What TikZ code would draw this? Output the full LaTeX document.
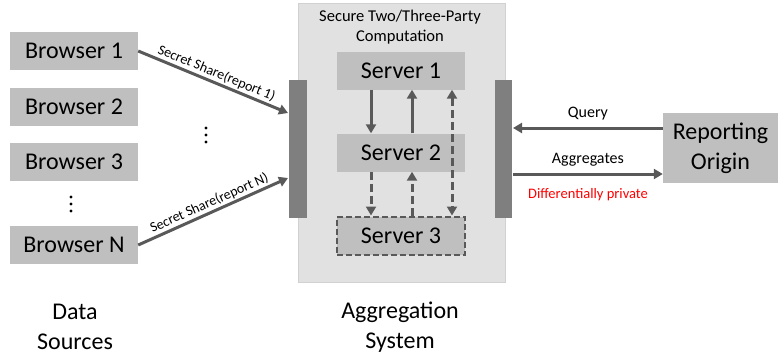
\documentclass[tikz,border=0pt]{standalone}
\usepackage{fontspec}
\setmainfont{Carlito}
\usetikzlibrary{arrows.meta,positioning}
\definecolor{boxgray}{HTML}{BFBFBF}
\definecolor{panelgray}{HTML}{E1E1E1}
\definecolor{bargray}{HTML}{7F7F7F}
\definecolor{arrowgray}{HTML}{595959}
\newcommand\bigfont{\fontsize{24}{29}\selectfont}
\tikzset{
  box/.style={fill=boxgray, minimum width=128pt, minimum height=38pt, inner sep=0pt, font=\bigfont},
  flow/.style={draw=arrowgray, line width=3pt, -{Triangle[length=9pt,width=10pt]}},
  dashflow/.style={flow, dash pattern=on 8pt off 4pt},
  lbl/.style={font=\fontsize{14}{16}\selectfont, inner sep=1.5pt},
  dot/.style={fill=black, radius=1.7pt}
}

\begin{document}
\begin{tikzpicture}[x=1pt, y=-1pt]
\useasboundingbox (0,0) rectangle (780,360);
%% aggregation system panel and the two gates
\draw[fill=panelgray, draw=black!18] (298,3) rectangle (505,282);%%
\node[align=center, font=\fontsize{16.5}{20}\selectfont] (title) at (400,27) {Secure Two/Three-Party\\Computation};%%
\fill[bargray] (289,80) rectangle (307,218);%%
\fill[bargray] (495,80) rectangle (512,218);%%
\coordinate (in1) at (288,113);%%
\coordinate (inN) at (288,178);%%
\coordinate (outq) at (513,128);%%
\coordinate (outa) at (513,174);%%
%% data sources
\node[box] (b1) at (74,51) {Browser 1};%%
\node[box] (b2) at (74,106.5) {Browser 2};%%
\node[box] (b3) at (74,162) {Browser 3};%%
\node[box] (bN) at (74,245) {Browser N};%%
\foreach \y in {197,204,211} \fill[dot] (71,\y) circle;%%
\foreach \y in {128,135,142} \fill[dot] (206,\y) circle;%%
\draw[flow] (b1.east) -- (in1) node[midway, above, sloped, lbl] {Secret Share(report 1)};%%
\draw[flow] (bN.east) -- (inN) node[midway, above, sloped, lbl] {Secret Share(report N)};%%
%% servers
\node[box] (s1) at (401,70.5) {Server 1};%%
\node[box] (s2) at (401,152.5) {Server 2};%%
\node[box, draw=arrowgray, line width=2pt, dash pattern=on 6pt off 3pt] (s3) at (401,235.5) {Server 3};%%
\draw[flow] ([xshift=-30pt]s1.south) -- ([xshift=-30pt]s2.north);%%
\draw[flow] ([xshift=11pt]s2.north) -- ([xshift=11pt]s1.south);%%
\draw[dashflow] ([xshift=-30pt]s2.south) -- ([xshift=-30pt]s3.north);%%
\draw[dashflow] ([xshift=11pt]s3.north) -- ([xshift=11pt]s2.south);%%
\draw[dashflow, {Triangle[length=9pt,width=10pt]}-{Triangle[length=9pt,width=10pt]}] ([xshift=51pt]s1.south) -- ([xshift=51pt]s3.north);%%
%% reporting origin
\node[box, minimum width=115pt, minimum height=70pt, align=center, font=\fontsize{24}{30}\selectfont] (ro) at (720.5,148) {Reporting\\Origin};%%
\draw[flow] (ro.west |- outq) -- (outq) node[midway, above=3pt, font=\fontsize{16}{19}\selectfont] {Query};%%
\draw[flow] (outa) -- (ro.west |- outa) node[midway, above=3pt, font=\fontsize{16}{19}\selectfont] {Aggregates};%%
\node[red, font=\fontsize{14.5}{17}\selectfont] (dp) at (588,195) {Differentially private};%%
%% captions
\node[align=center, font=\fontsize{24}{30}\selectfont] (cap1) at (75,327) {Data\\Sources};%%
\node[align=center, font=\fontsize{24}{30}\selectfont] (cap2) at (400,327) {Aggregation\\System};%%
\end{tikzpicture}
\end{document}
